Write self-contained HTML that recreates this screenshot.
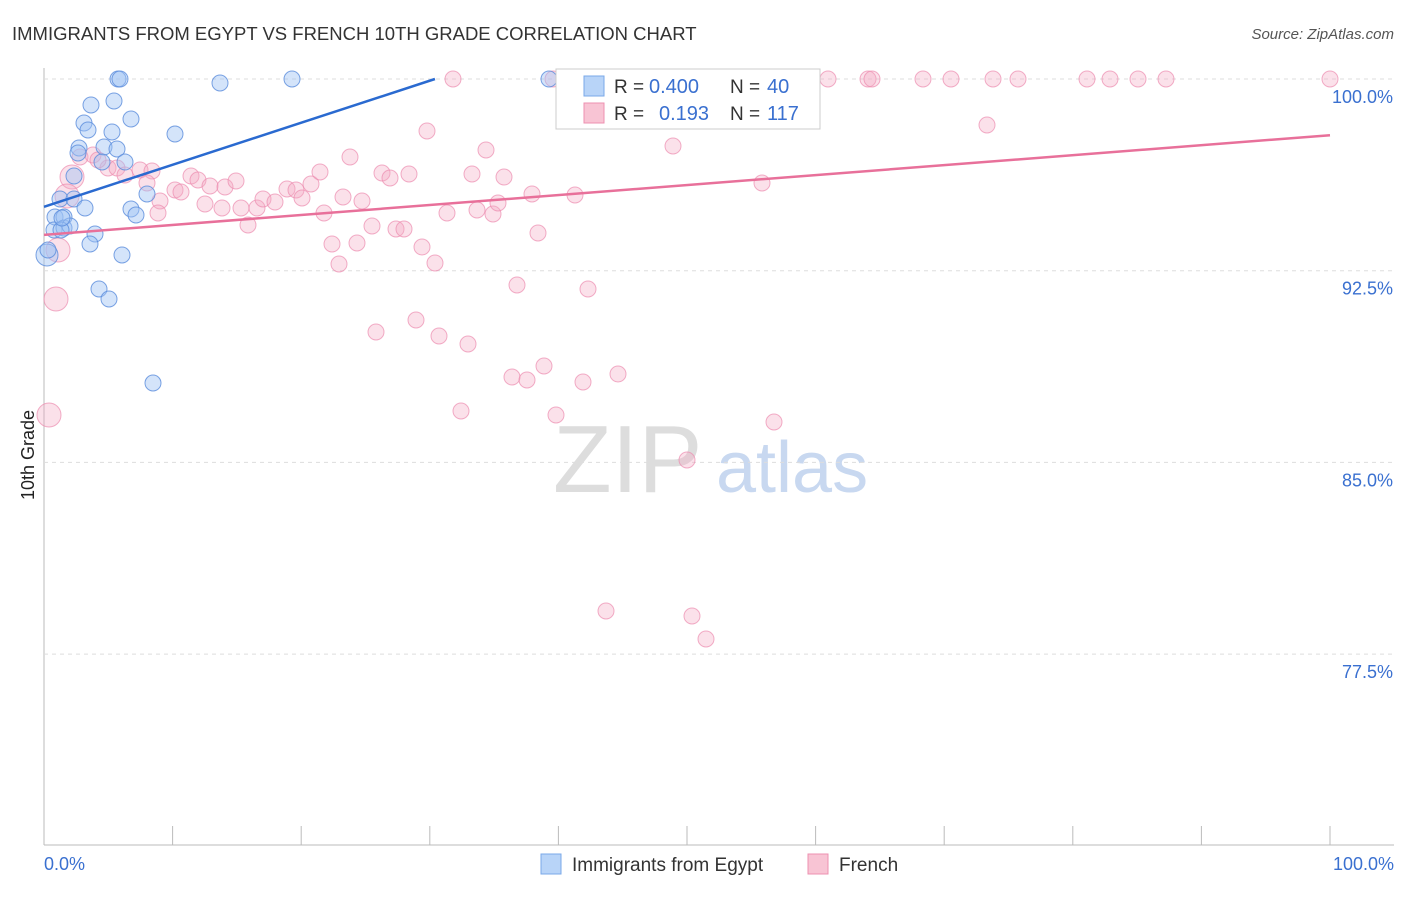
<!DOCTYPE html>
<html><head><meta charset="utf-8"><style>
body{margin:0;background:#fff;font-family:"Liberation Sans",sans-serif;}
svg text{font-family:"Liberation Sans",sans-serif;}
</style></head><body>
<svg id="c" width="1406" height="892" xmlns="http://www.w3.org/2000/svg">
<text x="12" y="40" font-size="18.5" fill="#333">IMMIGRANTS FROM EGYPT VS FRENCH 10TH GRADE CORRELATION CHART</text>
<text x="1394" y="39" font-size="15" fill="#555" font-style="italic" text-anchor="end">Source: ZipAtlas.com</text>
<text x="34" y="455" font-size="18" fill="#222" transform="rotate(-90 34 455)" text-anchor="middle">10th Grade</text>
<text x="553" y="492" font-size="96" fill="#ddd" font-family="Liberation Serif">ZIP</text>
<text x="716" y="492" font-size="72" fill="#c8d8f0">atlas</text>
<g id="grid"></g><g id="pts"></g><g id="lines"></g>
<g>
<rect x="556" y="69" width="264" height="60" fill="#fff" stroke="#ccc"/>
<rect x="584" y="76" width="20" height="20" fill="#b8d4f8" stroke="#7aa8e8"/>
<text x="614" y="93" font-size="19" fill="#333">R =</text>
<text x="649" y="93" font-size="20" fill="#3a70d0">0.400</text>
<text x="730" y="93" font-size="19" fill="#333">N =</text>
<text x="767" y="93" font-size="20" fill="#3a70d0">40</text>
<rect x="584" y="103" width="20" height="20" fill="#f8c4d4" stroke="#ee90b0"/>
<text x="614" y="120" font-size="19" fill="#333">R =</text>
<text x="659" y="120" font-size="20" fill="#3a70d0">0.193</text>
<text x="730" y="120" font-size="19" fill="#333">N =</text>
<text x="767" y="120" font-size="20" fill="#3a70d0">117</text>
</g>
<g>
<rect x="541" y="854" width="20" height="20" fill="#b8d4f8" stroke="#7aa8e8"/>
<text x="572" y="871" font-size="19" fill="#333">Immigrants from Egypt</text>
<rect x="808" y="854" width="20" height="20" fill="#f8c4d4" stroke="#ee90b0"/>
<text x="839" y="871" font-size="19" fill="#333">French</text>
</g>
</svg>
<script>
const yTicks=[100,92.5,85,77.5];
const xTickLabels=["0.0%","100.0%"];
const bluePx=[[118,79],[120,79],[220,83],[292,79],[549,79],[91,105],[114,101],[84,123],[131,119],[88,130],[112,132],[175,134],[79,148],[104,147],[117,149],[78,153],[125,162],[102,162],[74,176],[147,194],[60,199],[74,199],[85,208],[131,209],[136,215],[55,217],[64,217],[54,230],[64,228],[70,226],[95,234],[90,244],[122,255],[47,255],[99,289],[109,299],[153,383],[61,230],[48,250],[62,218]];
const pinkPx=[[453,79],[553,79],[573,79],[600,79],[642,79],[660,79],[721,79],[779,79],[805,79],[828,79],[868,79],[872,79],[923,79],[951,79],[993,79],[1018,79],[1087,79],[1110,79],[1138,79],[1166,79],[1330,79],[987,125],[427,131],[673,146],[486,150],[350,157],[80,157],[93,155],[72,177],[108,168],[117,168],[140,170],[125,175],[152,171],[147,183],[160,201],[175,190],[191,176],[181,192],[198,180],[210,186],[225,187],[236,181],[205,204],[222,208],[241,208],[257,208],[263,199],[275,202],[287,189],[296,190],[302,198],[311,184],[320,172],[324,213],[343,197],[362,201],[382,173],[390,178],[409,174],[472,174],[504,177],[532,194],[575,195],[762,183],[372,226],[396,229],[404,229],[447,213],[477,210],[493,214],[498,203],[422,247],[332,244],[357,243],[538,233],[248,225],[339,264],[435,263],[158,213],[517,285],[588,289],[376,332],[416,320],[439,336],[468,344],[544,366],[512,377],[527,380],[618,374],[583,382],[461,411],[556,415],[774,422],[687,460],[606,611],[692,616],[706,639],[49,415],[56,299],[58,250],[67,196],[98,160]];
const bigPink=[[49,415],[56,299],[58,250],[67,196],[72,177]];
const X0=44,X1=1330,Y100=79,PER=191.7/7.5;
const xs=v=>X0+(v/100)*(X1-X0), ys=v=>Y100+(100-v)*PER;
const toX=p=>(p-X0)/(X1-X0)*100, toY=p=>100-(p-Y100)/PER;
const blueData=bluePx.map(p=>[toX(p[0]),toY(p[1])]);
const pinkData=pinkPx.map(p=>[toX(p[0]),toY(p[1])]);
const blueLine=[[0,95.0],[30.4,100]];
const pinkLine=[[0,93.9],[100,97.8]];
const NS="http://www.w3.org/2000/svg";
function mk(t,a,parent){const e=document.createElementNS(NS,t);for(const k in a)e.setAttribute(k,a[k]);parent.appendChild(e);return e;}
const g=document.getElementById('grid'),pts=document.getElementById('pts'),ln=document.getElementById('lines');
mk('line',{x1:44,y1:68,x2:44,y2:845,stroke:'#bbb'},g);
mk('line',{x1:44,y1:845,x2:1394,y2:845,stroke:'#bbb'},g);
yTicks.forEach(v=>{const l=mk('line',{x1:44,y1:ys(v),x2:1394,y2:ys(v),stroke:'#ddd','stroke-dasharray':'4,4'},g);

const t=mk('text',{x:1393,y:ys(v)+24,'font-size':18,fill:'#3a70d0','text-anchor':'end'},g);t.textContent=v.toFixed(1)+'%';
});
for(let i=0;i<=10;i++){const x=xs(i*10);const l=mk('line',{x1:x,y1:826,x2:x,y2:845,stroke:'#bbb'},g);
}
[[0,'start',44],[1,'end',1394]].forEach(([i,a,x])=>{const t=mk('text',{x:x,y:870,'font-size':18,fill:'#3a70d0','text-anchor':a},g);t.textContent=xTickLabels[i];
});
pinkData.forEach((d,i)=>{const big=bigPink.some(b=>b[0]==pinkPx[i][0]&&b[1]==pinkPx[i][1]);
const c=mk('circle',{cx:xs(d[0]),cy:ys(d[1]),r:big?12:8,fill:'rgba(244,170,196,0.35)',stroke:'rgba(236,140,175,0.7)'},pts);
});
blueData.forEach((d,i)=>{const c=mk('circle',{cx:xs(d[0]),cy:ys(d[1]),r:i==33?11:8,fill:'rgba(160,196,244,0.45)',stroke:'rgba(90,140,220,0.8)'},pts);
});
const bl=mk('line',{x1:xs(blueLine[0][0]),y1:ys(blueLine[0][1]),x2:xs(blueLine[1][0]),y2:ys(blueLine[1][1]),stroke:'#2a6ad0','stroke-width':2.5},ln);

const pl=mk('line',{x1:xs(pinkLine[0][0]),y1:ys(pinkLine[0][1]),x2:xs(pinkLine[1][0]),y2:ys(pinkLine[1][1]),stroke:'#e8709a','stroke-width':2.5},ln);

</script>
</body></html>
